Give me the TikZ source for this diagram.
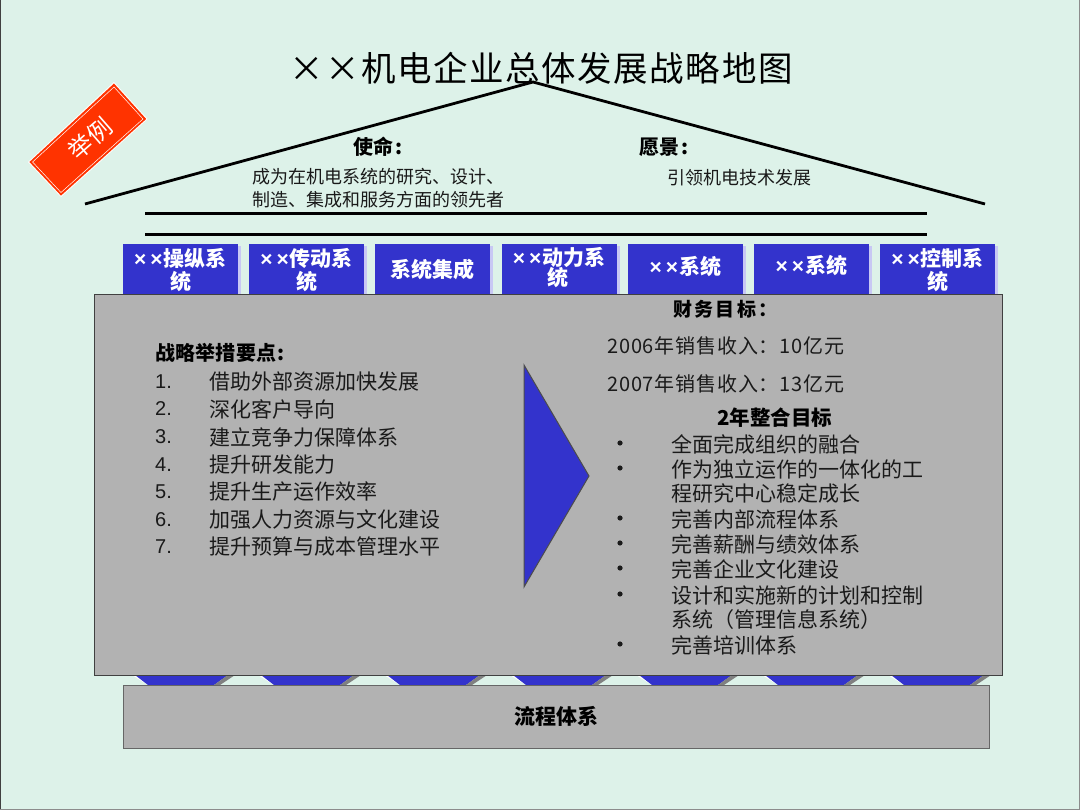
\documentclass[tikz,border=0pt]{standalone}
\usepackage{fontspec}
\setmainfont{Noto Sans CJK SC}
\newfontfamily\latinfont{Liberation Sans}
\definecolor{bgc}{HTML}{DDF2E9}
\definecolor{bluec}{HTML}{3333CC}
\definecolor{greyc}{HTML}{B2B2B2}
\definecolor{shadc}{HTML}{C8C8F4}
\definecolor{redc}{HTML}{FF3300}
\definecolor{inkc}{HTML}{1A1A1A}
\newcommand{\fs}[1]{\fontsize{#1}{#1}\selectfont}
\newcommand{\xx}{{\latinfont\bfseries ×\kern4pt×}\kern1pt}
\tikzset{
  x=1pt,y=-1pt,
  pillar/.style={fill=bluec,draw=none,minimum width=115pt,minimum height=50pt,inner sep=0pt},
  pillartext/.style={text=white,font=\fs{21}\bfseries,inner sep=0pt},
  pillarshadow/.style={fill=shadc,draw=none},
  panel/.style={fill=greyc,draw=black!75,line width=1pt},
  roofline/.style={line width=2.5pt,draw=black},
  roofslope/.style={line width=2.8pt,draw=black},
  head/.style={font=\fs{20}\bfseries,text=black,inner sep=0pt},
  body/.style={font=\fs{18},text=inkc,inner sep=0pt,anchor=west},
  item/.style={font=\fs{21},text=inkc,inner sep=0pt,anchor=west},
  fin/.style={font=\fs{20},text=inkc,inner sep=0pt,anchor=west},
  num/.style={font=\fs{20}\latinfont,text=inkc,inner sep=0pt,anchor=west},
  chevron/.style={fill=bluec,draw=none},
  sliver/.style={fill=black!50,draw=none},
  glint/.style={fill=white,draw=none},
}
\begin{document}
\begin{tikzpicture}
\useasboundingbox (0,0) rectangle (1080,810);
\fill[bgc] (0,0) rectangle (1080,810);
\draw[black!75,line width=2pt] (0,0) -- (0,810);
\draw[black!45,line width=2pt] (0,810) -- (1080,810) -- (1080,0);
% title
\node[inner sep=0pt,text=black] (title) at (541,68) {\fs{34.5}\addfontfeature{LetterSpace=4.5}××机电企业总体发展战略地图};
% roof
\coordinate (roofL) at (85,204);
\coordinate (roofT) at (533,82);
\coordinate (roofR) at (985,204);
\draw[roofslope,line join=miter] (roofL) -- (roofT) -- (roofR);
\coordinate (b1L) at (145,213.5);
\coordinate (b1R) at (927,213.5);
\coordinate (b2L) at (145,234.5);
\coordinate (b2R) at (927,234.5);
\draw[roofline] (b1L) -- (b1R);
\draw[roofline] (b2L) -- (b2R);
% tag
\fill[white] (114,82) -- (147.6,119) -- (61,197) -- (28,162) -- cycle;
\fill[redc] (114,83.5) -- (146.2,119) -- (61,195.6) -- (29.4,162) -- cycle;
\draw[white,line width=.5pt] (114,87) -- (143,119) -- (61,192.5) -- (32.6,162) -- cycle;
\node[rotate=41,text=white,font=\fs{24},inner sep=0pt] (tag) at (90,139) {举例};
% mission
\node[head,anchor=west] (mission) at (353,147) {使命\kern2pt:};
\node[head,anchor=west] (vision) at (639,147) {愿景\kern2pt:};
\node[body] (m1) at (252,177) {成为在机电系统的研究、设计、};
\node[body] (m2) at (252,200) {制造、集成和服务方面的领先者};
\node[body] (v1) at (667,178) {引领机电技术发展};
% chevrons under main panel
\foreach \i in {0,...,6}{
  \begin{scope}[xshift=126*\i]
  \fill[glint] (132,675) -- (148,685) -- (150,685) -- (136,675) -- cycle;
  \fill[chevron] (135,675) -- (148,685) -- (214,685) -- (228,675) -- cycle;
  \fill[sliver] (228,675) -- (214,685) -- (220,685) -- (235,675) -- cycle;
  \end{scope}
}
% pillars
\foreach \x in {123,249.2,375.4,501.6,627.8,754,880.2}{
  \fill[pillarshadow] (\x+3,246) rectangle (\x+118,294);
}
\node[pillar] (p1) at (180.5,269) {};
\node[pillar] (p2) at (306.7,269) {};
\node[pillar] (p3) at (432.9,269) {};
\node[pillar] (p4) at (559.1,269) {};
\node[pillar] (p5) at (685.3,269) {};
\node[pillar] (p6) at (811.5,269) {};
\node[pillar] (p7) at (937.7,269) {};
\node[pillartext] (p1a) at (180.5,258) {\xx 操纵系};
\node[pillartext] (p1b) at (180.5,282) {统};
\node[pillartext] (p2a) at (306.7,258) {\xx 传动系};
\node[pillartext] (p2b) at (306.7,282) {统};
\node[pillartext] (p3a) at (432.9,270) {系统集成};
\node[pillartext] (p4a) at (559.1,257) {\xx 动力系};
\node[pillartext] (p4b) at (558,278) {统};
\node[pillartext] (p5a) at (685.3,267) {\xx 系统};
\node[pillartext] (p6a) at (811.5,266) {\xx 系统};
\node[pillartext] (p7a) at (937.7,258) {\xx 控制系};
\node[pillartext] (p7b) at (937.7,282) {统};
% panels
\draw[panel] (94.5,294.5) rectangle (1002,675);
\draw[panel,draw=black!60] (123.5,685) rectangle (989.5,748);
\node[inner sep=0pt,font=\fs{21}\bfseries,text=black] (proc) at (556,716) {流程体系};
% left list
\node[head,anchor=west] (plan) at (155,353) {\addfontfeature{LetterSpace=1}战略举措要点\kern1pt:};
\foreach \n/\y/\t in {1/382/借助外部资源加快发展,2/409/深化客户导向,3/437/建立竞争力保障体系,4/465/提升研发能力,5/492/提升生产运作效率,6/520/加强人力资源与文化建设,7/547/提升预算与成本管理水平}{
  \node[num] (n\n) at (155,\y) {\n.};
  \node[item] (t\n) at (209,\y) {\t};
}
% triangle
\filldraw[fill=bluec,draw=black!70,line width=1pt] (524,365) -- (589,476) -- (524,587) -- cycle;
% finance
\node[inner sep=0pt,anchor=west,font=\fs{19}\bfseries,text=black] (fin) at (673,309) {\addfontfeature{LetterSpace=12}财务目标：};
\node[fin] (f1) at (607,346) {\addfontfeature{LetterSpace=4}2006年销售收入：10亿元};
\node[fin] (f2) at (607,384) {\addfontfeature{LetterSpace=4}2007年销售收入：13亿元};
\node[head,font=\fs{20.5}\bfseries] (goal) at (775,418) {2年整合目标};
\foreach \y/\t in {444/全面完成组织的融合,469/作为独立运作的一体化的工,494/程研究中心稳定成长,519/完善内部流程体系,544/完善薪酬与绩效体系,569/完善企业文化建设,595/设计和实施新的计划和控制,620/系统（管理信息系统）,645/完善培训体系}{
  \node[item] at (671,\y) {\t};
}
\foreach \y in {444,469,519,544,569,595,645}{
  \fill[inkc] (620,\y-1) circle[radius=2.6pt];
}
\end{tikzpicture}
\end{document}
